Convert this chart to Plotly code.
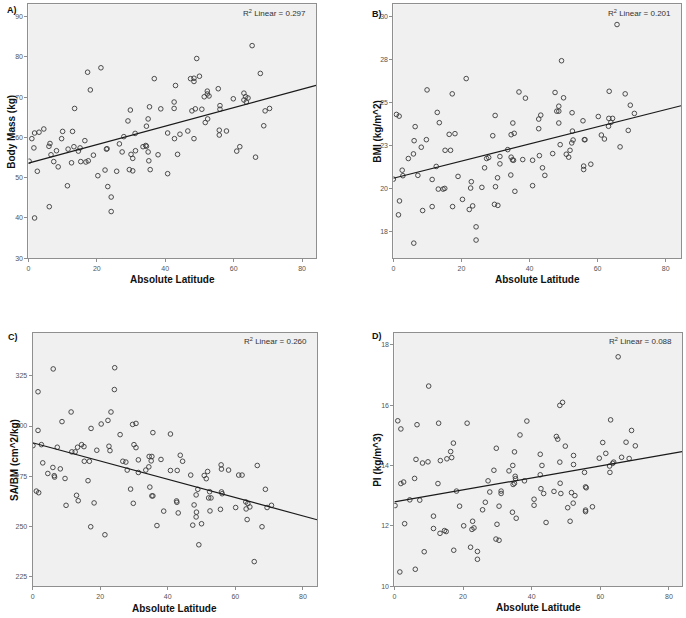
import plotly.graph_objects as go

W, H = 686, 618

# ---------------- Panel A: Body Mass ----------------
lat_a = [0.2, 1.0, 1.6, 1.8, 1.8, 2.6, 3.1, 4.5, 6.0, 6.3, 6.1, 6.6, 7.4, 8.2, 8.7, 9.7, 10.0, 11.4,
         11.6, 12.6, 12.9, 13.3, 13.5, 14.6, 15.1, 15.3, 16.5, 16.8, 17.3, 17.5, 18.1, 19.0, 20.3,
         21.2, 22.4, 22.8, 23.0, 23.2, 24.2, 24.2, 25.8, 26.6, 27.4, 27.9, 29.1, 29.5, 29.8, 30.0,
         30.5, 30.5, 31.2, 31.3, 33.5, 34.5, 34.5, 34.3, 35.0, 35.0, 35.2, 35.4, 35.6, 36.8, 37.9,
         38.7, 40.7, 40.7, 42.6, 42.6, 42.7, 43.0, 43.6, 44.3, 46.6, 47.4, 47.8, 48.4, 48.4, 48.4,
         48.8, 49.2, 50.0, 50.7, 51.4, 51.7, 52.3, 52.3, 52.4, 52.8, 55.5, 55.8, 55.8, 56.0, 56.0,
         57.9, 59.9, 60.9, 61.8, 63.0, 63.0, 63.5, 63.7, 64.2, 65.4, 66.4, 67.8, 68.8, 69.2, 70.5]
mass_a = [54.1, 59.7, 57.4, 61.1, 40.0, 51.6, 61.3, 62.1, 57.8, 58.5, 42.8, 55.7, 54.0, 56.7, 52.7,
          59.7, 61.5, 48.0, 57.1, 53.7, 61.5, 57.7, 67.2, 56.6, 57.4, 54.0, 59.2, 53.9, 76.2, 54.2,
          71.8, 55.6, 50.5, 77.3, 51.9, 57.1, 57.2, 47.8, 45.2, 41.6, 51.6, 58.4, 56.4, 60.2, 64.1,
          52.0, 66.8, 55.8, 54.8, 51.7, 61.0, 56.7, 57.7, 62.8, 57.8, 58.0, 64.6, 56.4, 54.2, 67.6,
          52.0, 74.6, 55.7, 67.1, 61.1, 51.0, 68.8, 67.2, 59.7, 72.9, 55.8, 60.8, 61.6, 74.6, 66.6,
          74.7, 73.9, 59.7, 67.1, 79.6, 75.2, 67.0, 70.1, 63.7, 71.5, 70.8, 64.6, 70.3, 72.1, 61.8,
          60.6, 67.9, 67.0, 61.6, 69.6, 56.6, 57.7, 71.0, 69.3, 70.1, 68.8, 69.8, 82.8, 55.1, 75.9,
          62.9, 66.6, 67.2]
fit_a = (53.62, 0.2295)  # intercept, slope of drawn regression line

# ---------------- Panel B: BMI ----------------
lat_b = [0.0, 0.9, 1.7, 1.5, 1.8, 2.6, 2.8, 4.4, 5.9, 6.1, 6.4, 6.0, 7.2, 8.2, 8.6, 9.7, 9.9, 11.4,
         11.4, 12.6, 12.9, 13.5, 13.2, 14.6, 15.1, 15.2, 16.4, 16.8, 17.3, 17.4, 18.1, 19.0, 20.3,
         21.4, 22.3, 22.7, 22.9, 23.3, 24.3, 24.3, 26.0, 26.8, 27.4, 28.0, 29.2, 29.7, 29.9, 30.0,
         30.7, 30.6, 31.3, 31.3, 33.6, 34.6, 34.5, 34.6, 35.1, 35.0, 35.3, 35.5, 35.7, 36.9, 38.0,
         38.8, 40.9, 40.9, 42.7, 42.7, 42.9, 43.3, 43.8, 44.5, 46.8, 47.5, 48.0, 48.6, 48.6, 48.6,
         49.0, 49.4, 50.0, 50.8, 51.5, 51.9, 52.4, 52.5, 52.6, 52.8, 55.7, 55.9, 55.9, 56.1, 56.3,
         58.0, 60.2, 61.1, 62.0, 63.2, 63.3, 63.4, 63.9, 64.4, 65.7, 66.6, 68.1, 69.0, 69.6, 70.8]
bmi_b = [20.53, 24.30, 24.20, 18.45, 19.26, 21.05, 20.73, 21.73, 22.00, 22.77, 23.59, 16.80, 20.75,
         22.39, 18.70, 22.83, 25.73, 20.51, 18.93, 21.27, 24.42, 23.82, 19.95, 19.95, 19.99, 22.21,
         23.14, 22.21, 25.50, 18.93, 23.18, 20.69, 19.35, 26.39, 18.76, 20.01, 20.38, 18.97, 17.75,
         16.98, 20.05, 21.19, 21.73, 21.79, 23.06, 19.06, 24.24, 20.09, 19.00, 20.61, 21.85, 21.42,
         22.25, 21.81, 20.77, 23.12, 23.80, 21.65, 21.63, 23.20, 19.82, 25.61, 21.67, 25.25, 21.63,
         20.15, 24.03, 23.47, 21.90, 24.26, 21.19, 20.75, 22.02, 25.58, 24.49, 24.78, 24.49, 23.80,
         22.54, 27.43, 25.27, 21.98, 21.81, 22.21, 22.64, 24.40, 23.33, 22.81, 23.93, 21.09, 21.29,
         22.83, 22.83, 21.40, 24.18, 23.10, 22.87, 23.61, 24.07, 25.65, 23.84, 24.07, 29.54, 22.41,
         25.50, 23.37, 24.84, 24.36]
fit_b = (20.58, 0.0500)
bmi_tick_vals = [17.5, 20, 22.5, 25, 27.5, 30]
bmi_tick_text = ["18", "20", "23", "25", "28", "30"]

# ---------------- Panel C: SA/BM ----------------
lat_c = [0.1, 1.1, 1.6, 1.6, 1.8, 2.6, 3.0, 4.5, 6.0, 6.1, 6.4, 6.5, 7.3, 8.2, 8.7, 9.6, 9.9, 11.4,
         11.6, 12.6, 13.0, 13.3, 13.5, 14.5, 15.2, 15.3, 16.4, 16.8, 17.2, 17.3, 18.2, 19.0, 20.3,
         21.4, 22.3, 22.6, 22.9, 23.2, 24.2, 24.3, 25.9, 26.7, 27.6, 28.0, 29.0, 29.6, 29.8, 30.0,
         30.6, 30.6, 31.3, 31.3, 33.5, 34.5, 34.4, 34.7, 35.1, 35.3, 35.3, 35.6, 35.6, 36.8, 38.0,
         38.8, 40.8, 40.8, 42.6, 42.7, 42.8, 43.1, 43.7, 44.4, 46.8, 47.4, 47.8, 48.4, 48.4, 48.5,
         48.9, 49.2, 50.0, 50.8, 51.4, 51.8, 52.1, 52.4, 52.5, 52.8, 55.6, 55.8, 55.9, 55.9, 56.1,
         58.0, 60.1, 61.0, 62.0, 63.1, 63.2, 63.5, 63.7, 64.3, 65.6, 66.5, 67.9, 68.9, 69.4, 70.7]
sabm_c = [290.2, 267.5, 317.1, 297.8, 266.7, 290.7, 281.6, 276.3, 279.3, 328.5, 275.2, 274.5, 289.4,
          278.6, 302.2, 273.8, 260.4, 307.0, 287.1, 287.1, 265.4, 289.4, 262.7, 290.7, 289.7, 282.4,
          272.7, 282.4, 249.7, 298.8, 261.6, 287.9, 301.0, 245.7, 302.8, 289.9, 287.7, 307.0, 318.2,
          329.1, 295.7, 282.4, 282.0, 278.0, 268.5, 300.8, 261.4, 290.7, 301.3, 289.2, 283.1, 276.8,
          278.0, 284.8, 279.6, 269.5, 282.6, 284.8, 265.1, 265.1, 296.7, 250.3, 283.3, 257.5, 296.0,
          277.8, 262.6, 261.9, 277.8, 256.6, 285.4, 282.4, 275.5, 250.5, 260.6, 265.6, 254.6, 257.0,
          268.4, 240.7, 251.2, 275.3, 273.7, 277.3, 264.1, 267.2, 257.6, 264.1, 258.4, 280.6, 278.5,
          267.1, 266.2, 278.0, 259.3, 275.5, 275.5, 262.1, 258.6, 253.3, 261.3, 259.6, 232.3, 280.3,
          249.7, 268.4, 259.3, 260.4]
fit_c = (291.65, -0.4565)

# ---------------- Panel D: PI ----------------
lat_d = [0.2, 1.0, 1.6, 1.9, 1.9, 2.7, 3.0, 4.5, 5.9, 6.1, 6.3, 6.6, 7.4, 8.2, 8.7, 9.8, 10.0, 11.4,
         11.4, 12.7, 12.9, 13.3, 13.4, 14.6, 15.1, 15.3, 16.4, 16.7, 17.2, 17.3, 18.1, 19.0, 20.2,
         21.2, 22.2, 22.6, 22.8, 23.2, 24.2, 24.2, 25.7, 26.5, 27.3, 27.8, 29.0, 29.7, 29.6, 29.9,
         30.5, 30.5, 31.1, 31.1, 33.4, 34.4, 34.5, 34.6, 35.0, 35.0, 35.2, 35.3, 35.5, 36.6, 37.9,
         38.6, 40.7, 40.7, 42.5, 42.5, 42.7, 43.0, 43.5, 44.2, 46.5, 47.2, 47.6, 48.2, 48.2, 48.3,
         48.5, 49.0, 49.8, 50.5, 51.2, 51.6, 52.1, 52.2, 52.2, 52.6, 55.4, 55.7, 55.7, 55.7, 55.9,
         57.7, 59.7, 60.7, 61.6, 62.7, 62.8, 63.0, 63.6, 63.9, 65.2, 66.2, 67.5, 68.4, 69.1, 70.2]
pi_d = [12.67, 15.48, 10.47, 15.21, 13.40, 13.45, 12.07, 12.86, 13.57, 10.56, 14.20, 15.35, 12.85,
        14.08, 11.14, 14.12, 16.63, 12.32, 11.91, 13.40, 15.40, 11.75, 14.16, 11.84, 11.81, 14.22,
        14.46, 14.26, 14.74, 11.19, 13.15, 12.65, 12.00, 15.40, 11.29, 11.88, 12.15, 11.93, 11.15,
        10.89, 12.53, 12.78, 13.49, 13.12, 13.84, 14.57, 11.56, 12.05, 11.52, 12.65, 13.15, 13.07,
        13.82, 12.45, 14.00, 13.37, 14.45, 13.41, 13.64, 13.56, 12.25, 15.01, 13.49, 15.47, 12.88,
        12.68, 14.37, 13.69, 13.23, 14.00, 13.07, 12.11, 13.14, 14.96, 14.87, 15.99, 14.11, 13.41,
        13.07, 16.09, 14.64, 12.60, 12.15, 13.10, 12.75, 14.33, 14.03, 13.00, 13.77, 12.47, 12.52,
        13.29, 13.26, 12.63, 14.24, 14.76, 14.40, 13.98, 13.77, 15.51, 14.07, 14.11, 17.60, 14.27,
        14.77, 14.23, 15.16, 14.65]
fit_d = (12.79, 0.0199)

x_ticks = [0, 20, 40, 60, 80]

# ---------------- layout helpers ----------------
def fx(p):
    return p / W

def fy(p):
    return 1 - p / H

panels = [
    dict(key="A)", lat=lat_a, val=mass_a, fit=fit_a, r2="0.297", ytitle="Body Mass (kg)",
         box=(26.5, 315.0, 4.3, 259.5), xr=[0, 84.1], yr=[30, 93.07],
         ytv=[30, 40, 50, 60, 70, 80, 90], ytt=None,
         lab=(3, 10), ytx=9.5, xty=281),
    dict(key="B)", lat=lat_b, val=bmi_b, fit=fit_b, r2="0.201", ytitle="BMI (kg/m^2)",
         box=(392.5, 681.0, 4.3, 259.5), xr=[0, 84.5], yr=[15.92, 30.72],
         ytv=bmi_tick_vals, ytt=bmi_tick_text,
         lab=(369, 14), ytx=376.5, xty=281),
    dict(key="C)", lat=lat_c, val=sabm_c, fit=fit_c, r2="0.260", ytitle="SA/BM (cm^2/kg)",
         box=(30.7, 316.0, 334.3, 589.3), xr=[0, 84.2], yr=[219.9, 346.6],
         ytv=[225, 250, 275, 300, 325], ytt=None,
         lab=(4, 339), ytx=12.5, xty=611),
    dict(key="D)", lat=lat_d, val=pi_d, fit=fit_d, r2="0.088", ytitle="PI (kg/m^3)",
         box=(393.5, 682.0, 334.3, 589.0), xr=[0, 83.8], yr=[10, 18.4],
         ytv=[10, 12, 14, 16, 18], ytt=None,
         lab=(369, 338), ytx=376.5, xty=610),
]

fig = go.Figure()
annotations = []
layout_axes = {}
frame = "#8f8f8f"
tickfont = dict(family="Liberation Sans, Arial, sans-serif", size=7, color="#555555")
titlefont = dict(family="Liberation Sans, Arial, sans-serif", size=10, color="#111111")

for i, p in enumerate(panels, start=1):
    xa = "x" if i == 1 else f"x{i}"
    ya = "y" if i == 1 else f"y{i}"
    xkey = "xaxis" if i == 1 else f"xaxis{i}"
    ykey = "yaxis" if i == 1 else f"yaxis{i}"
    l, r, t, b = p["box"]

    fig.add_trace(go.Scatter(
        x=p["lat"], y=p["val"], mode="markers", xaxis=xa, yaxis=ya, showlegend=False,
        marker=dict(symbol="circle-open", size=4.6, color="#3a3a3a", line=dict(width=0.9)),
        hoverinfo="x+y"))
    b0, b1 = p["fit"]
    fx0, fx1 = p["xr"]
    fig.add_trace(go.Scatter(
        x=[fx0, fx1], y=[b0 + b1 * fx0, b0 + b1 * fx1], mode="lines", xaxis=xa, yaxis=ya,
        showlegend=False, line=dict(color="#1a1a1a", width=1.2), hoverinfo="skip"))

    layout_axes[xkey] = dict(
        domain=[fx(l), fx(r)], range=p["xr"], anchor=ya, showgrid=False, zeroline=False,
        showline=True, mirror=True, linecolor=frame, linewidth=1,
        ticks="outside", ticklen=3, tickcolor=frame, tickvals=x_ticks, tickfont=tickfont)
    ydict = dict(
        domain=[fy(b), fy(t)], range=p["yr"], anchor=xa, showgrid=False, zeroline=False,
        showline=True, mirror=True, linecolor=frame, linewidth=1,
        ticks="outside", ticklen=3, tickcolor=frame, tickvals=p["ytv"], tickfont=tickfont)
    if p["ytt"] is not None:
        ydict["ticktext"] = p["ytt"]
    layout_axes[ykey] = ydict

    # panel letter
    annotations.append(dict(text=f"<b>{p['key']}</b>", x=fx(p["lab"][0]), y=fy(p["lab"][1]),
                            xref="paper", yref="paper", xanchor="left", yanchor="middle",
                            showarrow=False, font=dict(family="Liberation Sans, Arial", size=9, color="#111")))
    # R2 text
    annotations.append(dict(text=f"R<sup>2</sup> Linear = {p['r2']}", x=fx(r - 8), y=fy(t + 8.5),
                            xref="paper", yref="paper", xanchor="right", yanchor="middle",
                            showarrow=False, font=dict(family="Liberation Sans, Arial", size=8, color="#333")))
    # x title
    annotations.append(dict(text="<b>Absolute Latitude</b>", x=fx((l + r) / 2), y=fy(p["xty"]),
                            xref="paper", yref="paper", xanchor="center", yanchor="middle",
                            showarrow=False, font=titlefont))
    # y title
    annotations.append(dict(text=f"<b>{p['ytitle']}</b>", x=fx(p["ytx"]), y=fy((t + b) / 2),
                            xref="paper", yref="paper", xanchor="center", yanchor="middle",
                            textangle=-90, showarrow=False, font=titlefont))

fig.update_layout(
    width=W, height=H, autosize=False,
    margin=dict(l=0, r=0, t=0, b=0, pad=0),
    paper_bgcolor="white", plot_bgcolor="#f0f0f0",
    annotations=annotations, **layout_axes)

fig.write_html("out.html", config={"displayModeBar": False},
               post_script="document.body.style.margin='0';")
